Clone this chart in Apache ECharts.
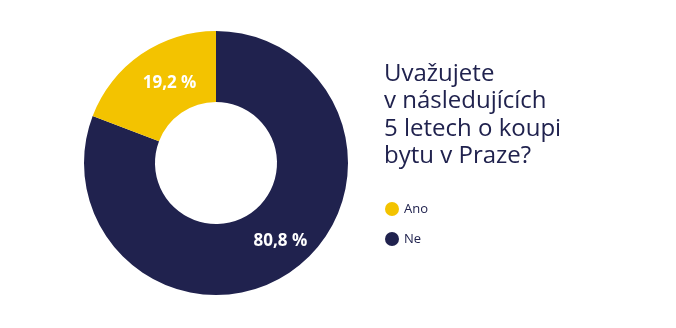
<!DOCTYPE html>
<html><head><meta charset="utf-8">
<script src="https://cdn.jsdelivr.net/npm/echarts@6/dist/echarts.min.js"></script>
<style>html,body{margin:0;padding:0;background:#fff}#c{width:676px;height:328px}</style>
</head><body><div id="c"></div>
<script>
const categories = ['Ne', 'Ano'];
const values = [80.8, 19.2];
const colors = ['#20224e', '#f3c300'];
const legendOrder = ['Ano', 'Ne'];
const titleText = 'Uvažujete\nv následujících\n5 letech o koupi\nbytu v Praze?';

const chart = echarts.init(document.getElementById('c'));
chart.setOption({
  animation: false,
  title: {
    text: titleText, left: 379, top: 55,
    textStyle: { fontFamily: 'Open Sans', fontSize: 24, fontWeight: 'normal', color: '#20224e', lineHeight: 27.5 }
  },
  legend: {
    data: legendOrder, orient: 'vertical', left: 380, top: 197, itemGap: 16,
    icon: 'circle', itemWidth: 14, itemHeight: 14,
    textStyle: { fontFamily: 'Open Sans', fontSize: 13, color: '#20224e' }
  },
  series: [{
    type: 'pie', center: [216, 163], radius: [61, 132], startAngle: 90, clockwise: true,
    label: {
      show: true, position: 'inside', color: '#fff', fontFamily: 'Open Sans', fontWeight: 'bold', fontSize: 17,
      formatter: p => p.value.toFixed(1).replace('.', ',') + ' %'
    },
    labelLayout: p => (p.dataIndex === 1 ? { dx: 10, dy: 2 } : { dx: 8, dy: -4 }),
    labelLine: { show: false },
    data: categories.map((c, i) => ({ name: c, value: values[i], itemStyle: { color: colors[i] } }))
  }]
});
</script></body></html>
